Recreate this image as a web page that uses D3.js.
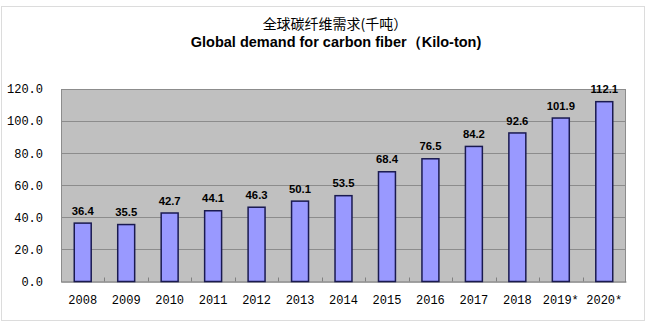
<!DOCTYPE html>
<html><head><meta charset="utf-8">
<script src="https://cdn.jsdelivr.net/npm/d3@7"></script>
<style>body{margin:0;background:#fff}svg{display:block}</style>
</head><body>
<script>
const categories = ["2008","2009","2010","2011","2012","2013","2014","2015","2016","2017","2018","2019*","2020*"];
const values = [36.4,35.5,42.7,44.1,46.3,50.1,53.5,68.4,76.5,84.2,92.6,101.9,112.1];
const yTicks = [0,20,40,60,80,100,120];
const titleCn = "全球碳纤维需求(千吨）";
const titleEn = "Global demand for carbon fiber（Kilo-ton)";

const W = 651, H = 325;
const m = {left:61, right:626, top:89, bottom:281.5};
const svg = d3.select("body").append("svg").attr("width",W).attr("height",H);

svg.append("rect").attr("x",1.5).attr("y",6.5).attr("width",643).attr("height",314)
  .attr("fill","#fff").attr("stroke","#dcdcdc").attr("stroke-width",1);

svg.append("text").attr("x",335).attr("y",29).attr("text-anchor","middle")
  .attr("font-family","'Noto Sans CJK SC'").attr("font-size",14).attr("fill","#000").text(titleCn);
svg.append("text").attr("x",336).attr("y",47).attr("text-anchor","middle")
  .attr("font-family","'Liberation Sans', Arial").attr("font-weight","bold").attr("font-size",14.5).attr("fill","#000").text(titleEn);

const x = d3.scaleBand().domain(categories).range([m.left,m.right]).paddingInner(0.61).paddingOuter(0.305);
const y = d3.scaleLinear().domain([0,120]).range([m.bottom,m.top]);

svg.append("rect").attr("x",m.left).attr("y",m.top).attr("width",m.right-m.left).attr("height",m.bottom-m.top)
  .attr("fill","#c0c0c0");

svg.append("g").selectAll("line").data(yTicks.filter(d=>d>0 && d<120)).join("line")
  .attr("x1",m.left).attr("x2",m.right).attr("y1",d=>Math.round(y(d))+0.5).attr("y2",d=>Math.round(y(d))+0.5)
  .attr("stroke","#8c8c8c").attr("stroke-width",1);

svg.append("rect").attr("x",m.left+0.5).attr("y",m.top+0.5).attr("width",m.right-m.left-1).attr("height",m.bottom-m.top)
  .attr("fill","none").attr("stroke","#8c8c8c").attr("stroke-width",1);

// y axis labels
const yAxis = d3.axisLeft(y).tickValues(yTicks).tickFormat(d3.format(".1f")).tickSize(0).tickPadding(18);
const ga = svg.append("g").attr("transform",`translate(${m.left},0)`).call(yAxis);
ga.select(".domain").remove();
ga.selectAll("text").attr("font-family","'Liberation Mono', monospace").attr("font-size",12).attr("fill","#000");

// x axis
const xAxis = d3.axisBottom(x).tickSize(0).tickPadding(14);
const gx = svg.append("g").attr("transform",`translate(0,${m.bottom})`).call(xAxis);
gx.select(".domain").attr("stroke","#808080");
gx.selectAll("text").attr("font-family","'Liberation Mono', monospace").attr("font-size",12).attr("fill","#000");
// inner tick marks at category boundaries
const step = x.step();
svg.append("g").selectAll("line").data(d3.range(1,categories.length)).join("line")
  .attr("x1",i=>Math.round(m.left+i*step)+0.5).attr("x2",i=>Math.round(m.left+i*step)+0.5)
  .attr("y1",m.bottom).attr("y2",m.bottom-4).attr("stroke","#808080");

// bars
svg.append("g").selectAll("rect").data(values).join("rect")
  .attr("x",(d,i)=>x(categories[i])).attr("width",x.bandwidth())
  .attr("y",d=>y(d)).attr("height",d=>y(0)-y(d))
  .attr("fill","#9999ff").attr("stroke","#1a1a50").attr("stroke-width",1.5);

// labels
svg.append("g").selectAll("text").data(values).join("text")
  .attr("x",(d,i)=>x(categories[i])+x.bandwidth()/2).attr("y",d=>y(d)-8.3)
  .attr("text-anchor","middle").attr("font-family","'Liberation Sans', Arial").attr("font-weight","bold")
  .attr("font-size",11.3).attr("fill","#000").text(d=>d.toFixed(1));
</script>
</body></html>
